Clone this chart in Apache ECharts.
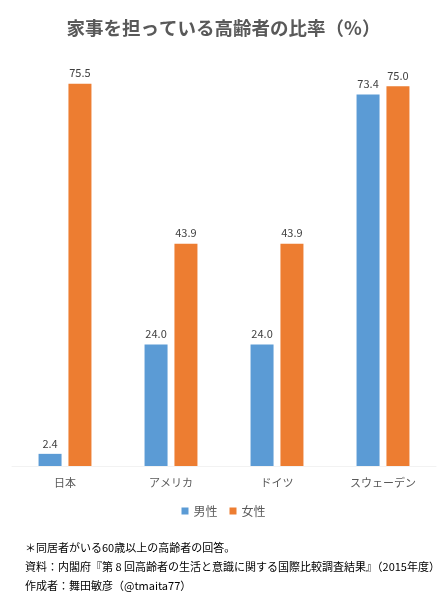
<!DOCTYPE html>
<html>
<head>
<meta charset="utf-8">
<script src="https://cdn.jsdelivr.net/npm/echarts@6/dist/echarts.min.js"></script>
<style>
  html, body {margin: 0; padding: 0; background: #fff;}
  #main {width: 447px; height: 616px;}
</style>
</head>
<body>
<div id="main"></div>
<script>
// データ
var countries = ['日本', 'アメリカ', 'ドイツ', 'スウェーデン'];
var male = [2.4, 24.0, 24.0, 73.4];
var female = [75.5, 43.9, 43.9, 75.0];
var seriesNames = ['男性', '女性'];

var notes = [
    '＊同居者がいる60歳以上の高齢者の回答。',
    '資料：内閣府『第 8 回高齢者の生活と意識に関する国際比較調査結果』（2015年度）',
    '作成者：舞田敏彦（@tmaita77）'
];

var font = '"Noto Sans CJK JP", "Noto Sans", sans-serif';

var myChart = echarts.init(document.getElementById('main'));

var labelOpt = {
    show: true,
    position: 'top',
    distance: 5,
    color: '#404040',
    fontSize: 11,
    fontFamily: font,
    formatter: function (p) { return p.value.toFixed(1); }
};

var option = {
    color: ['#5B9BD5', '#ED7D31'],
    title: {
        text: '家事を担っている高齢者の比率（%）',
        left: 'center',
        top: 14,
        textStyle: {color: '#595959', fontSize: 18.5, fontWeight: 'bold', fontFamily: font}
    },
    legend: {
        data: seriesNames,
        bottom: 94,
        left: 'center',
        itemWidth: 7,
        itemHeight: 7,
        itemGap: 12,
        icon: 'rect',
        textStyle: {color: '#595959', fontSize: 12, fontFamily: font}
    },
    grid: {left: 12, right: 11, top: 61, bottom: 150},
    xAxis: {
        type: 'category',
        data: countries,
        axisLine: {show: true, lineStyle: {color: '#f2f2f2'}},
        axisTick: {show: false},
        axisLabel: {color: '#595959', fontSize: 11, fontFamily: font, margin: 11}
    },
    yAxis: {
        type: 'value',
        min: 0,
        max: 80,
        show: false,
        splitLine: {show: false}
    },
    graphic: notes.map(function (t, i) {
        return {
            type: 'text',
            left: 25,
            top: 542 + i * 19,
            style: {text: t, fill: '#000', fontSize: 11, fontFamily: font}
        };
    }),
    series: [
        {name: seriesNames[0], type: 'bar', data: male, barWidth: 23, barGap: '30%', label: labelOpt},
        {name: seriesNames[1], type: 'bar', data: female, barWidth: 23, label: labelOpt}
    ]
};

myChart.setOption(option);

window.onresize = function () {
    myChart.resize();
};
</script>
</body>
</html>
